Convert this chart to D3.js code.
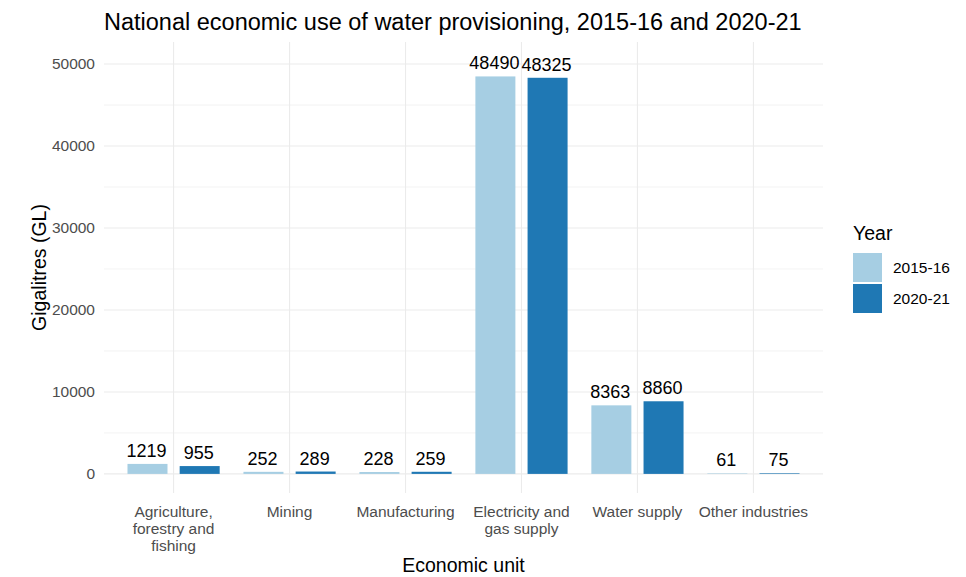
<!DOCTYPE html>
<html>
<head>
<meta charset="utf-8">
<script src="https://cdn.jsdelivr.net/npm/d3@7"></script>
<style>
  body { margin: 0; background: #fff; }
  text { font-family: "Liberation Sans", Arial, sans-serif; }
</style>
</head>
<body>
<div id="chart"></div>
<script>
// data
const categories = ["Agriculture,\nforestry and\nfishing", "Mining", "Manufacturing",
                    "Electricity and\ngas supply", "Water supply", "Other industries"];
const years = ["2015-16", "2020-21"];
const values2015 = [1219, 252, 228, 48490, 8363, 61];
const values2020 = [955, 289, 259, 48325, 8860, 75];
const yTicks = [0, 10000, 20000, 30000, 40000, 50000];
const yMinor = [5000, 15000, 25000, 35000, 45000];
const colors = ["#A6CEE3", "#1F78B4"];

const width = 966, height = 577;
const margin = {top: 42, right: 143, bottom: 84, left: 104};

const svg = d3.select("#chart").append("svg")
  .attr("width", width)
  .attr("height", height);

const rows = categories.map((c, i) => ({cat: c, vals: [values2015[i], values2020[i]]}));

// point scale with ggplot-like 0.6 expansion each side
const x = d3.scalePoint()
  .domain(categories)
  .range([margin.left, width - margin.right])
  .padding(0.6);
const step = x.step();

const y = d3.scaleLinear()
  .domain([-2330, 52690])
  .range([height - margin.bottom, margin.top]);

const grid = svg.append("g");
grid.selectAll(".minor").data(yMinor).enter().append("line")
  .attr("x1", margin.left).attr("x2", width - margin.right)
  .attr("y1", d => y(d)).attr("y2", d => y(d))
  .attr("stroke", "#EBEBEB").attr("stroke-width", 0.6);
grid.selectAll(".major").data(yTicks).enter().append("line")
  .attr("x1", margin.left).attr("x2", width - margin.right)
  .attr("y1", d => y(d)).attr("y2", d => y(d))
  .attr("stroke", "#EBEBEB").attr("stroke-width", 1.1);
grid.selectAll(".vmajor").data(categories).enter().append("line")
  .attr("x1", d => x(d)).attr("x2", d => x(d))
  .attr("y1", margin.top).attr("y2", height - margin.bottom)
  .attr("stroke", "#EBEBEB").attr("stroke-width", 1.1);

const barW = step * 0.345;
const offset = step * 0.225;

const g = svg.append("g");
rows.forEach(r => {
  r.vals.forEach((v, j) => {
    const cx = x(r.cat) + (j === 0 ? -offset : offset);
    g.append("rect")
      .attr("x", cx - barW / 2)
      .attr("y", y(v))
      .attr("width", barW)
      .attr("height", y(0) - y(v))
      .attr("fill", colors[j]);
    g.append("text")
      .attr("x", cx - 1)
      .attr("y", y(v) - 7)
      .attr("text-anchor", "middle")
      .style("font-size", "18px")
      .attr("fill", "#000")
      .text(v);
  });
});

// y axis labels
svg.append("g").selectAll("text").data(yTicks).enter().append("text")
  .attr("x", margin.left - 9)
  .attr("y", d => y(d))
  .attr("dy", "0.35em")
  .attr("text-anchor", "end")
  .style("font-size", "15.5px")
  .attr("fill", "#4D4D4D")
  .text(d => d);

// x axis labels
const xl = svg.append("g").selectAll("text").data(categories).enter().append("text")
  .attr("x", d => x(d))
  .attr("y", height - margin.bottom + 24)
  .attr("text-anchor", "middle")
  .style("font-size", "15.5px")
  .attr("fill", "#4D4D4D");
xl.each(function(d) {
  const t = d3.select(this);
  d.split("\n").forEach((line, i) => {
    t.append("tspan").attr("x", x(d)).attr("dy", i === 0 ? 0 : 17).text(line);
  });
});

// titles
svg.append("text")
  .attr("x", margin.left)
  .attr("y", 30)
  .style("font-size", "23.5px")
  .attr("fill", "#000")
  .text("National economic use of water provisioning, 2015-16 and 2020-21");

svg.append("text")
  .attr("x", (margin.left + width - margin.right) / 2)
  .attr("y", 572)
  .attr("text-anchor", "middle")
  .style("font-size", "19.5px")
  .attr("fill", "#000")
  .text("Economic unit");

svg.append("text")
  .attr("transform", "translate(46," + ((margin.top + height - margin.bottom) / 2) + ") rotate(-90)")
  .attr("text-anchor", "middle")
  .style("font-size", "19.5px")
  .attr("fill", "#000")
  .text("Gigalitres (GL)");

// legend
const leg = svg.append("g").attr("transform", "translate(853,0)");
leg.append("text")
  .attr("x", 0).attr("y", 240)
  .style("font-size", "19.5px")
  .attr("fill", "#000")
  .text("Year");
years.forEach((yr, i) => {
  leg.append("rect")
    .attr("x", 0).attr("y", 253 + i * 31)
    .attr("width", 29).attr("height", 29)
    .attr("fill", colors[i]);
  leg.append("text")
    .attr("x", 40).attr("y", 253 + i * 31 + 14.5)
    .attr("dy", "0.35em")
    .style("font-size", "15.5px")
    .attr("fill", "#000")
    .text(yr);
});
</script>
</body>
</html>
